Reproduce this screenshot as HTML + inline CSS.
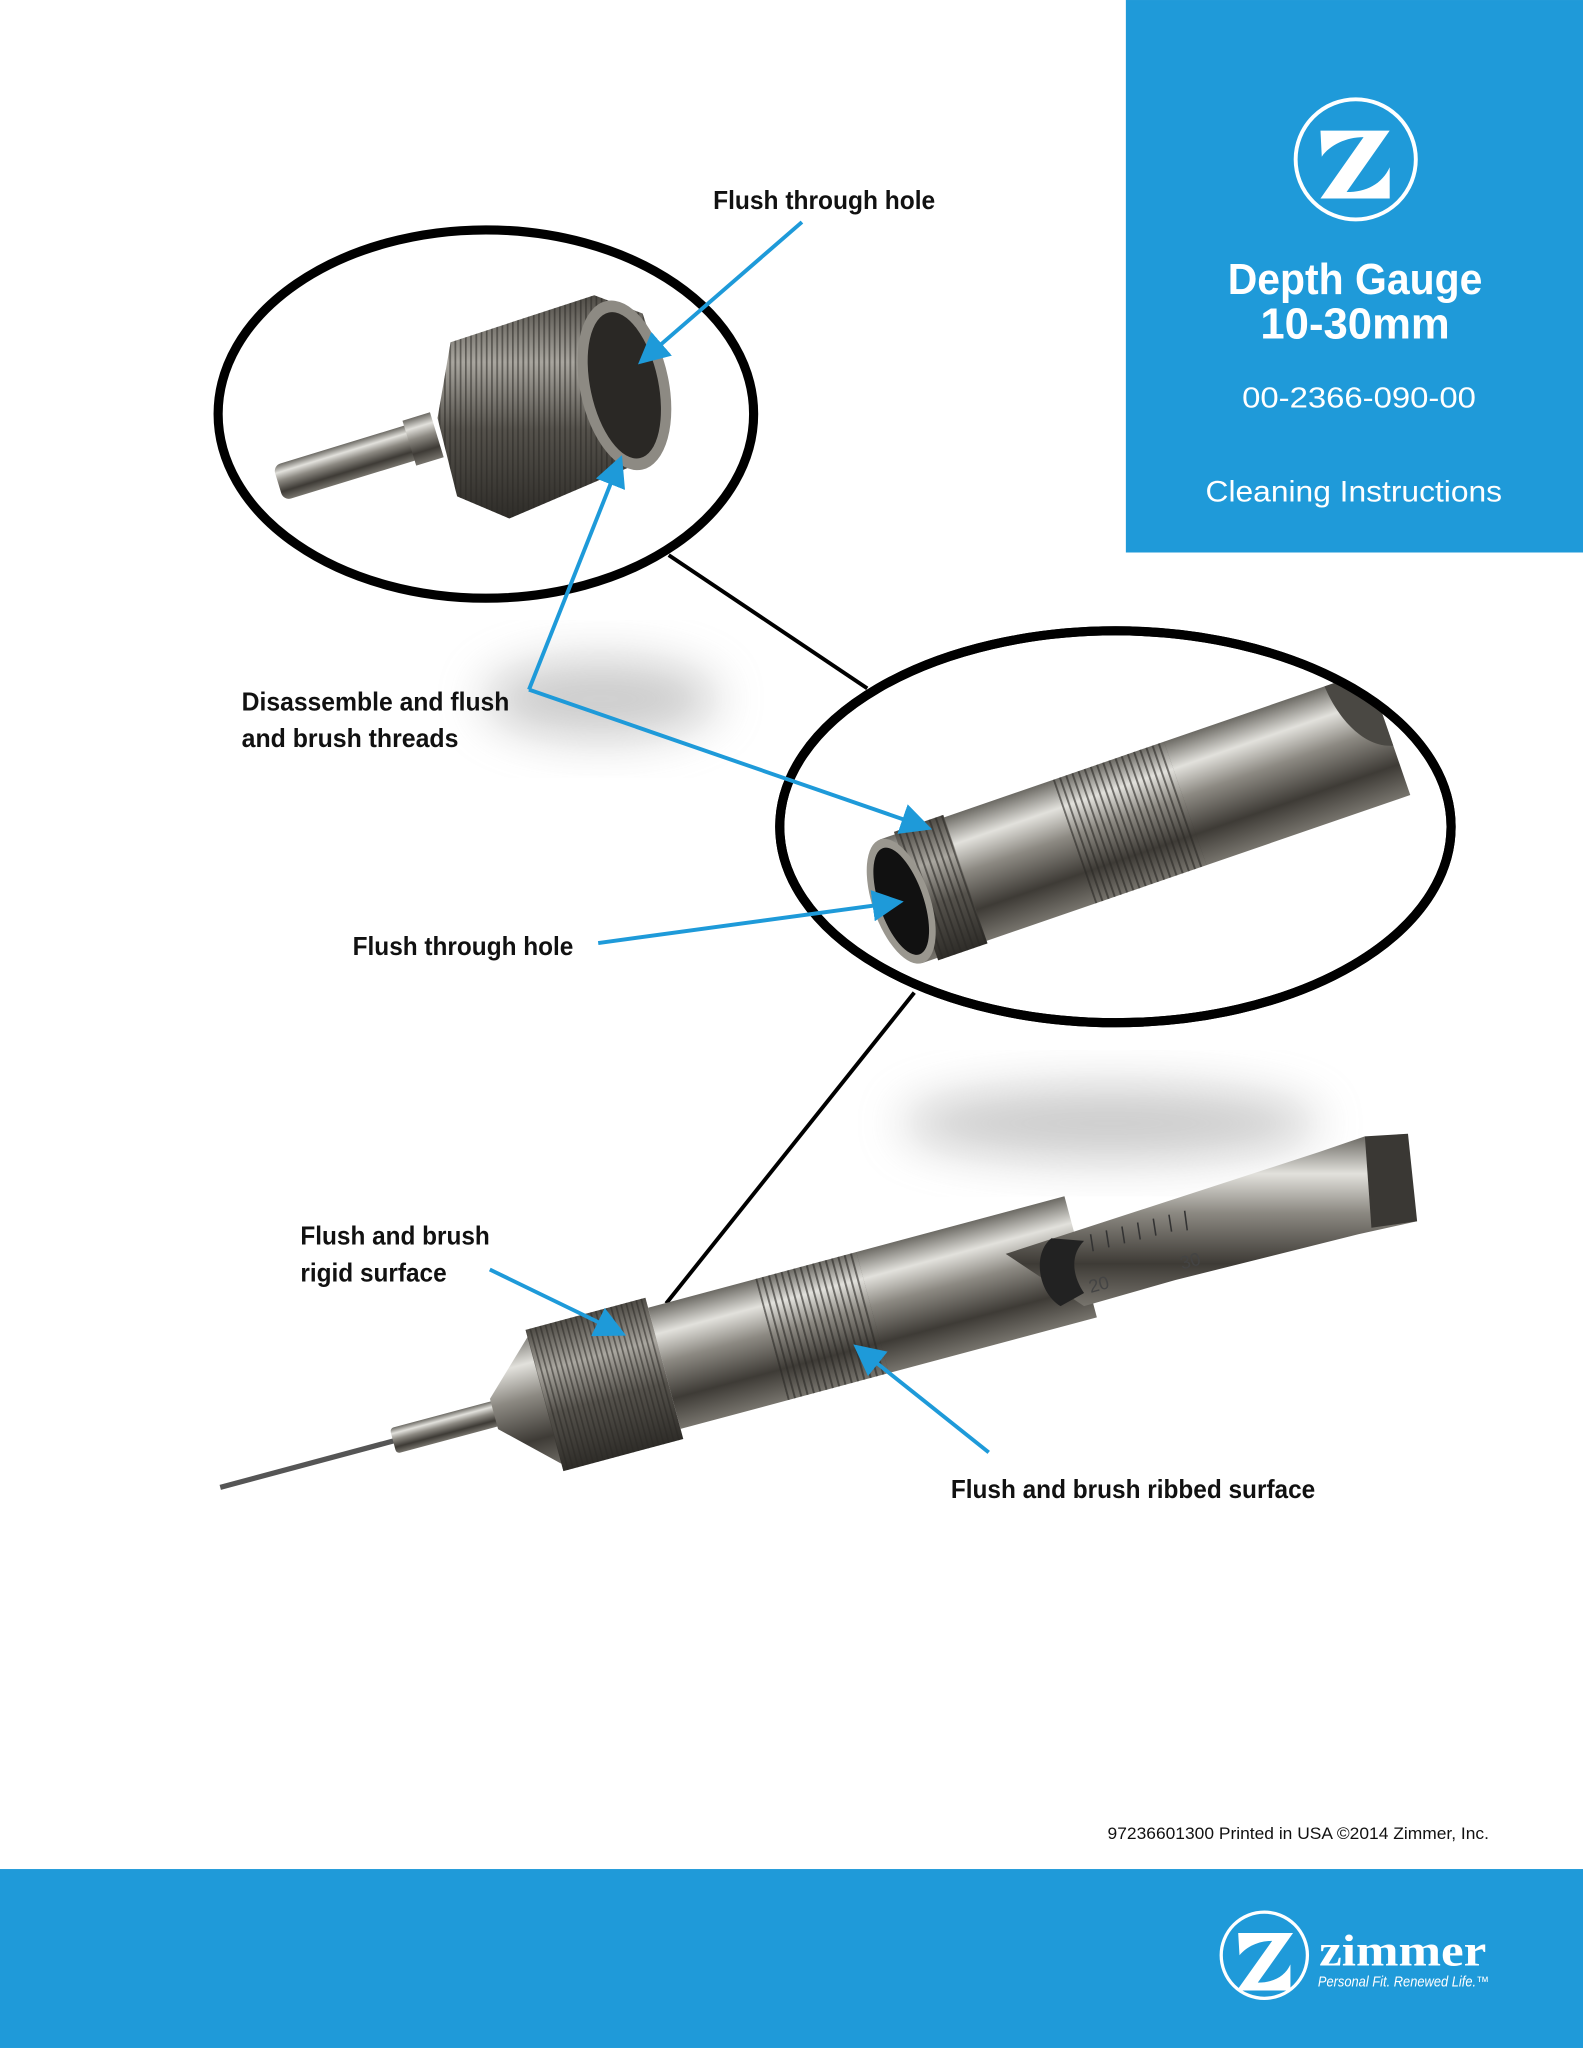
<!DOCTYPE html>
<html><head><meta charset="utf-8"><style>
html,body{margin:0;padding:0;background:#fff;}
svg{display:block;}
.lab{font-family:"Liberation Sans Narrow","Liberation Sans",sans-serif;font-weight:bold;font-size:20px;fill:#111;}
</style></head><body>
<svg width="1583" height="2048" viewBox="0 0 1212 1568" xmlns="http://www.w3.org/2000/svg">
<defs>
<linearGradient id="met" x1="0" y1="0" x2="0" y2="1">
<stop offset="0" stop-color="#6c6a64"/><stop offset="0.22" stop-color="#e2e1dc"/><stop offset="0.45" stop-color="#8c8982"/><stop offset="0.75" stop-color="#3e3b36"/><stop offset="1" stop-color="#77746d"/>
</linearGradient>
<linearGradient id="metd" x1="0" y1="0" x2="0" y2="1">
<stop offset="0" stop-color="#4e4b45"/><stop offset="0.3" stop-color="#a9a69f"/><stop offset="0.6" stop-color="#55524c"/><stop offset="1" stop-color="#2e2c28"/>
</linearGradient>
<pattern id="knurl" width="4" height="4" patternUnits="userSpaceOnUse"><rect width="1.3" height="4" fill="#2a2824" opacity="0.55"/></pattern>
<pattern id="rib" width="5" height="5" patternUnits="userSpaceOnUse"><rect width="1.5" height="5" fill="#2a2824" opacity="0.6"/></pattern>
<filter id="blur" x="-50%" y="-50%" width="200%" height="200%"><feGaussianBlur stdDeviation="18"/></filter>
<clipPath id="midclip"><ellipse cx="854" cy="633" rx="254" ry="147"/></clipPath>
<marker id="ar" markerWidth="8" markerHeight="8" refX="6" refY="4" orient="auto" markerUnits="strokeWidth"><path d="M0,0 L8,4 L0,8 z" fill="#1e9ad9"/></marker>
</defs>

<!-- blue panel -->
<rect x="862" y="0" width="350" height="423" fill="#1f9ad9"/>
<ellipse cx="1038" cy="122" rx="46" ry="46" fill="none" stroke="#fff" stroke-width="3"/>
<path d="M1011,100 L1064,100 L1031,147 C1046,147 1058,141 1064,128 L1064,152 L1011,152 L1044,105 C1031,105 1018,111 1012,120 z" fill="#fff"/>
<text x="940" y="225" textLength="195" lengthAdjust="spacingAndGlyphs" font-family="Liberation Sans,sans-serif" font-weight="bold" font-size="33" fill="#fff">Depth Gauge</text>
<text x="965" y="259" textLength="145" lengthAdjust="spacingAndGlyphs" font-family="Liberation Sans,sans-serif" font-weight="bold" font-size="33" fill="#fff">10-30mm</text>
<text x="951" y="312" textLength="179" lengthAdjust="spacingAndGlyphs" font-family="Liberation Sans,sans-serif" font-size="22" fill="#fff">00-2366-090-00</text>
<text x="923" y="384" textLength="227" lengthAdjust="spacingAndGlyphs" font-family="Liberation Sans,sans-serif" font-size="23" fill="#fff">Cleaning Instructions</text>

<!-- shadows -->
<ellipse cx="460" cy="535" rx="90" ry="30" fill="#999" opacity="0.5" filter="url(#blur)"/>
<ellipse cx="850" cy="860" rx="160" ry="28" fill="#999" opacity="0.5" filter="url(#blur)"/>

<!-- connector lines -->
<line x1="512" y1="425" x2="664" y2="527" stroke="#000" stroke-width="3"/>
<line x1="700" y1="760" x2="510" y2="998" stroke="#000" stroke-width="3"/>

<!-- top ellipse -->
<ellipse cx="372" cy="317" rx="205" ry="141" fill="#fff" stroke="#000" stroke-width="7"/>
<g>
<g transform="translate(213,370) rotate(-17)"><rect x="0" y="-14" width="115" height="28" rx="6" fill="url(#met)"/><rect x="105" y="-18" width="22" height="36" fill="url(#met)"/></g>
<path d="M345,262 L455,226 L492,240 L512,300 L500,350 L390,397 L350,380 L335,320 z" fill="url(#metd)"/>
<path d="M345,262 L455,226 L492,240 L512,300 L500,350 L390,397 L350,380 L335,320 z" fill="url(#knurl)"/>
<ellipse cx="478" cy="295" rx="34" ry="66" transform="rotate(-12 478 295)" fill="#8d8a83"/>
<ellipse cx="478" cy="295" rx="26" ry="57" transform="rotate(-12 478 295)" fill="#2a2825"/>
</g>

<!-- middle ellipse -->
<ellipse cx="854" cy="633" rx="257" ry="150" fill="#fff" stroke="#000" stroke-width="7"/>
<g clip-path="url(#midclip)">
<g transform="translate(690,690) rotate(-19)">
<rect x="0" y="-50" width="395" height="100" fill="url(#met)"/>
<rect x="140" y="-50" width="90" height="100" fill="url(#rib)"/>
<rect x="12" y="-52" width="40" height="104" fill="url(#metd)"/>
<rect x="12" y="-52" width="40" height="104" fill="url(#rib)"/>
<ellipse cx="0" cy="0" rx="22" ry="50" fill="#9a978f"/>
<ellipse cx="0" cy="0" rx="17" ry="43" fill="#111"/>
<path d="M360,-50 L395,-50 L395,10 C375,5 362,-20 360,-50z" fill="#4a4843"/>
</g>
</g>
<ellipse cx="854" cy="633" rx="257" ry="150" fill="none" stroke="#000" stroke-width="7"/>

<!-- bottom instrument -->
<g transform="translate(470,1058) rotate(-15)">
<rect x="-312" y="-2" width="140" height="4" fill="#555"/>
<rect x="-175" y="-10" width="85" height="20" rx="3" fill="url(#met)"/>
<polygon points="-95,-12 -50,-55 -50,55 -95,12" fill="url(#met)"/>
<rect x="-55" y="-56" width="95" height="112" fill="url(#metd)"/>
<rect x="-55" y="-56" width="95" height="112" fill="url(#knurl)"/>
<rect x="40" y="-48" width="330" height="96" fill="url(#met)"/>
<rect x="125" y="-48" width="80" height="96" fill="url(#rib)"/>
</g>
<path d="M770,960 L1010,882 L1045,870 L1085,935 L1040,945 L900,980 L830,1000 Z" fill="url(#met)"/>
<path d="M1045,870 L1078,868 L1085,935 L1050,940 Z" fill="#3a3834"/>
<path d="M805,948 C790,960 795,990 812,1000 L830,990 C820,975 820,960 830,950Z" fill="#222"/>
<g stroke="#333" stroke-width="1.2">
<line x1="835" y1="945" x2="837" y2="958"/><line x1="847" y1="942" x2="849" y2="955"/><line x1="859" y1="939" x2="861" y2="952"/><line x1="871" y1="936" x2="873" y2="949"/><line x1="883" y1="933" x2="885" y2="946"/><line x1="895" y1="930" x2="897" y2="943"/><line x1="907" y1="927" x2="909" y2="942"/>
</g>
<text x="835" y="990" font-family="Liberation Sans,sans-serif" font-size="14" fill="#444" transform="rotate(-15 835 990)">20</text>
<text x="905" y="972" font-family="Liberation Sans,sans-serif" font-size="14" fill="#444" transform="rotate(-15 905 972)">30</text>

<!-- blue arrows -->
<g stroke="#1e9ad9" stroke-width="3" fill="none">
<line x1="614" y1="170" x2="493" y2="275" marker-end="url(#ar)"/>
<line x1="405" y1="528" x2="474" y2="354" marker-end="url(#ar)"/>
<line x1="405" y1="528" x2="708" y2="633" marker-end="url(#ar)"/>
<line x1="458" y1="722" x2="686" y2="691" marker-end="url(#ar)"/>
<line x1="375" y1="972" x2="474" y2="1020" marker-end="url(#ar)"/>
<line x1="757" y1="1112" x2="658" y2="1033" marker-end="url(#ar)"/>
</g>

<!-- labels -->
<text class="lab" x="546" y="160" textLength="170" lengthAdjust="spacingAndGlyphs">Flush through hole</text>
<text class="lab" x="185" y="544" textLength="205" lengthAdjust="spacingAndGlyphs">Disassemble and flush</text>
<text class="lab" x="185" y="572" textLength="166" lengthAdjust="spacingAndGlyphs">and brush threads</text>
<text class="lab" x="270" y="731" textLength="169" lengthAdjust="spacingAndGlyphs">Flush through hole</text>
<text class="lab" x="230" y="953" textLength="145" lengthAdjust="spacingAndGlyphs">Flush and brush</text>
<text class="lab" x="230" y="981" textLength="112" lengthAdjust="spacingAndGlyphs">rigid surface</text>
<text class="lab" x="728" y="1147" textLength="279" lengthAdjust="spacingAndGlyphs">Flush and brush ribbed surface</text>

<text x="848" y="1408" textLength="292" lengthAdjust="spacingAndGlyphs" font-family="Liberation Sans,sans-serif" font-size="13" fill="#111">97236601300 Printed in USA ©2014 Zimmer, Inc.</text>

<!-- bottom bar -->
<rect x="0" y="1431" width="1212" height="137" fill="#1f9ad9"/>
<ellipse cx="968" cy="1497" rx="33" ry="33" fill="none" stroke="#fff" stroke-width="2.5"/>
<path d="M948,1480 L990,1480 L963,1518 C975,1518 984,1513 988,1504 L988,1524 L947,1524 L974,1486 C964,1486 955,1490 949,1497 z" fill="#fff"/>
<text x="1010" y="1505" font-family="Liberation Serif,serif" font-weight="bold" font-size="34" fill="#fff" textLength="128" lengthAdjust="spacingAndGlyphs">zimmer</text>
<text x="1009" y="1521" font-family="Liberation Sans,sans-serif" font-style="italic" font-size="11" fill="#fff" textLength="131" lengthAdjust="spacingAndGlyphs">Personal Fit. Renewed Life.™</text>
</svg>
</body></html>
